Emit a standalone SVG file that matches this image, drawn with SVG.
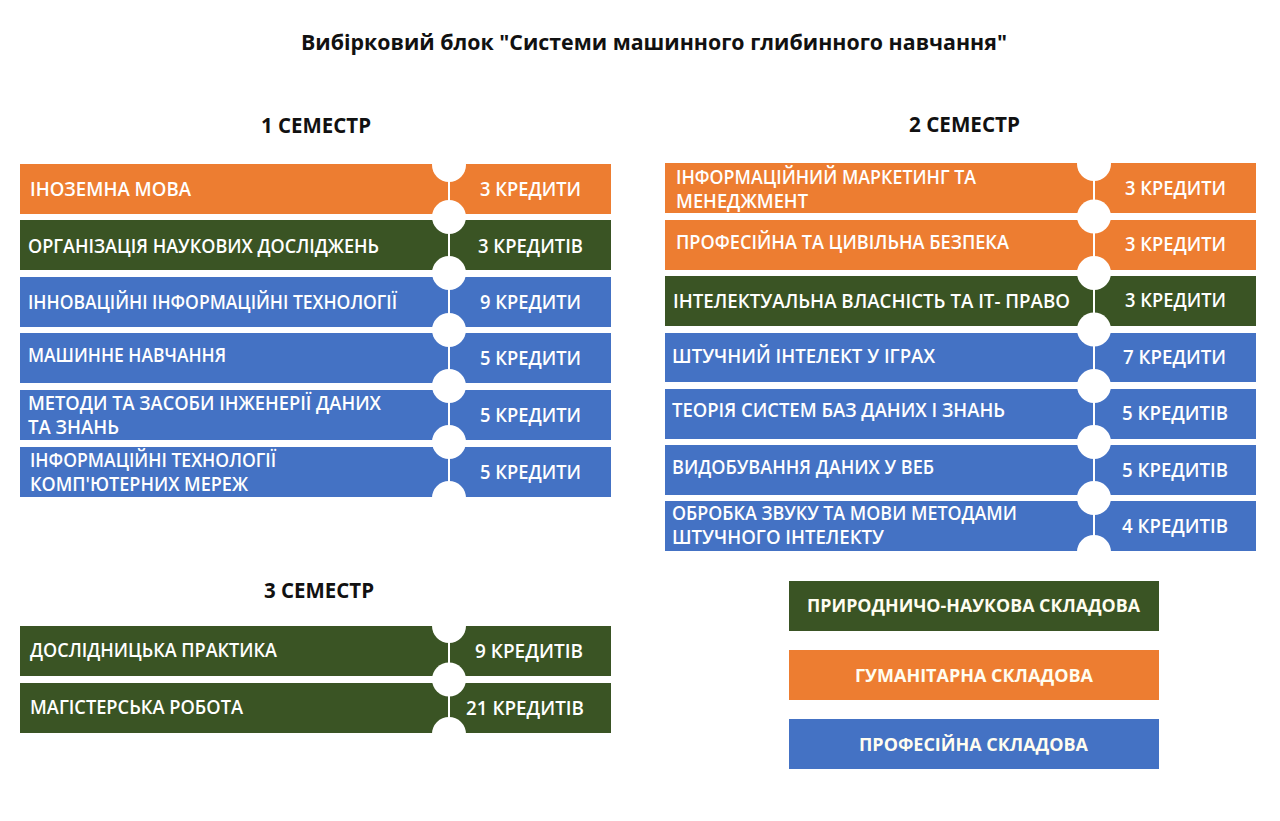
<svg xmlns="http://www.w3.org/2000/svg" width="1280" height="821" viewBox="0 0 1280 821">
<style>
.bg{fill:#ffffff}
.or{fill:#ED7D31}
.gr{fill:#3A5424}
.bl{fill:#4472C4}
.t{font-family:"Open Sans","Noto Sans","Liberation Sans",sans-serif;font-size:19px;font-weight:600;fill:#ffffff}
.lg{font-family:"Open Sans","Noto Sans","Liberation Sans",sans-serif;font-size:17px;font-weight:700;fill:#FFFDF0}
.h{font-family:"Open Sans","Noto Sans","Liberation Sans",sans-serif;font-size:21px;font-weight:700;fill:#111111}
.ttl{font-family:"Open Sans","Noto Sans","Liberation Sans",sans-serif;font-size:21px;font-weight:700;fill:#111111}
.dot{fill:#ffffff}
.ln{stroke:#ffffff;stroke-width:2;fill:none}
</style>
<rect class="bg" x="0" y="0" width="1280" height="821"/>

<g id="title">
<text class="ttl" x="301" y="50" textLength="706" lengthAdjust="spacingAndGlyphs">Вибірковий блок "Системи машинного глибинного навчання"</text>
</g>
<g id="sem1-header"><text class="h" x="261" y="132.5" textLength="110" lengthAdjust="spacingAndGlyphs">1 СЕМЕСТР</text></g>
<g id="sem2-header"><text class="h" x="909" y="131.5" textLength="111" lengthAdjust="spacingAndGlyphs">2 СЕМЕСТР</text></g>
<g id="sem3-header"><text class="h" x="264" y="597.5" textLength="110" lengthAdjust="spacingAndGlyphs">3 СЕМЕСТР</text></g>

<!-- Semester 1 -->
<g id="s1-1"><rect class="or" x="20" y="164" width="591" height="50"/>
<text class="t" x="30" y="196" textLength="161" lengthAdjust="spacingAndGlyphs">ІНОЗЕМНА МОВА</text>
<text class="t" x="480" y="196" textLength="101" lengthAdjust="spacingAndGlyphs">3 КРЕДИТИ</text></g>
<g id="s1-2"><rect class="gr" x="20" y="220" width="591" height="50"/>
<text class="t" x="28" y="252.5" textLength="351" lengthAdjust="spacingAndGlyphs">ОРГАНІЗАЦІЯ НАУКОВИХ ДОСЛІДЖЕНЬ</text>
<text class="t" x="478" y="252.5" textLength="105" lengthAdjust="spacingAndGlyphs">3 КРЕДИТІВ</text></g>
<g id="s1-3"><rect class="bl" x="20" y="277" width="591" height="50"/>
<text class="t" x="28" y="309" textLength="369" lengthAdjust="spacingAndGlyphs">ІННОВАЦІЙНІ ІНФОРМАЦІЙНІ ТЕХНОЛОГІЇ</text>
<text class="t" x="480" y="309" textLength="101" lengthAdjust="spacingAndGlyphs">9 КРЕДИТИ</text></g>
<g id="s1-4"><rect class="bl" x="20" y="333" width="591" height="50"/>
<text class="t" x="28" y="362" textLength="198" lengthAdjust="spacingAndGlyphs">МАШИННЕ НАВЧАННЯ</text>
<text class="t" x="480" y="365" textLength="101" lengthAdjust="spacingAndGlyphs">5 КРЕДИТИ</text></g>
<g id="s1-5"><rect class="bl" x="20" y="390" width="591" height="50"/>
<text class="t" x="28" y="410" textLength="353" lengthAdjust="spacingAndGlyphs">МЕТОДИ ТА ЗАСОБИ ІНЖЕНЕРІЇ ДАНИХ</text>
<text class="t" x="28" y="434" textLength="91" lengthAdjust="spacingAndGlyphs">ТА ЗНАНЬ</text>
<text class="t" x="480" y="422" textLength="101" lengthAdjust="spacingAndGlyphs">5 КРЕДИТИ</text></g>
<g id="s1-6"><rect class="bl" x="20" y="447" width="591" height="50"/>
<text class="t" x="30" y="467" textLength="246" lengthAdjust="spacingAndGlyphs">ІНФОРМАЦІЙНІ ТЕХНОЛОГІЇ</text>
<text class="t" x="30" y="491" textLength="218" lengthAdjust="spacingAndGlyphs">КОМП'ЮТЕРНИХ МЕРЕЖ</text>
<text class="t" x="480" y="479" textLength="101" lengthAdjust="spacingAndGlyphs">5 КРЕДИТИ</text></g>

<!-- Semester 2 -->
<g id="s2-1"><rect class="or" x="665" y="163" width="591" height="50"/>
<text class="t" x="676" y="184" textLength="300" lengthAdjust="spacingAndGlyphs">ІНФОРМАЦІЙНИЙ МАРКЕТИНГ ТА</text>
<text class="t" x="676" y="208" textLength="132" lengthAdjust="spacingAndGlyphs">МЕНЕДЖМЕНТ</text>
<text class="t" x="1125" y="195" textLength="101" lengthAdjust="spacingAndGlyphs">3 КРЕДИТИ</text></g>
<g id="s2-2"><rect class="or" x="665" y="220" width="591" height="50"/>
<text class="t" x="676" y="249" textLength="333" lengthAdjust="spacingAndGlyphs">ПРОФЕСІЙНА ТА ЦИВІЛЬНА БЕЗПЕКА</text>
<text class="t" x="1125" y="251" textLength="101" lengthAdjust="spacingAndGlyphs">3 КРЕДИТИ</text></g>
<g id="s2-3"><rect class="gr" x="665" y="276" width="591" height="50"/>
<text class="t" x="673" y="308" textLength="397" lengthAdjust="spacingAndGlyphs">ІНТЕЛЕКТУАЛЬНА ВЛАСНІСТЬ ТА ІТ- ПРАВО</text>
<text class="t" x="1125" y="307" textLength="101" lengthAdjust="spacingAndGlyphs">3 КРЕДИТИ</text></g>
<g id="s2-4"><rect class="bl" x="665" y="333" width="591" height="49"/>
<text class="t" x="672" y="363" textLength="263" lengthAdjust="spacingAndGlyphs">ШТУЧНИЙ ІНТЕЛЕКТ У ІГРАХ</text>
<text class="t" x="1123" y="364" textLength="103" lengthAdjust="spacingAndGlyphs">7 КРЕДИТИ</text></g>
<g id="s2-5"><rect class="bl" x="665" y="389" width="591" height="50"/>
<text class="t" x="672" y="417" textLength="333" lengthAdjust="spacingAndGlyphs">ТЕОРІЯ СИСТЕМ БАЗ ДАНИХ І ЗНАНЬ</text>
<text class="t" x="1122" y="420" textLength="106" lengthAdjust="spacingAndGlyphs">5 КРЕДИТІВ</text></g>
<g id="s2-6"><rect class="bl" x="665" y="445" width="591" height="50"/>
<text class="t" x="672" y="474" textLength="262" lengthAdjust="spacingAndGlyphs">ВИДОБУВАННЯ ДАНИХ У ВЕБ</text>
<text class="t" x="1122" y="477" textLength="106" lengthAdjust="spacingAndGlyphs">5 КРЕДИТІВ</text></g>
<g id="s2-7"><rect class="bl" x="665" y="501" width="591" height="50"/>
<text class="t" x="672" y="520" textLength="345" lengthAdjust="spacingAndGlyphs">ОБРОБКА ЗВУКУ ТА МОВИ МЕТОДАМИ</text>
<text class="t" x="672" y="544" textLength="212" lengthAdjust="spacingAndGlyphs">ШТУЧНОГО ІНТЕЛЕКТУ</text>
<text class="t" x="1122" y="533" textLength="106" lengthAdjust="spacingAndGlyphs">4 КРЕДИТІВ</text></g>

<!-- Semester 3 -->
<g id="s3-1"><rect class="gr" x="20" y="626" width="591" height="50"/>
<text class="t" x="30" y="657" textLength="247" lengthAdjust="spacingAndGlyphs">ДОСЛІДНИЦЬКА ПРАКТИКА</text>
<text class="t" x="475" y="658" textLength="108" lengthAdjust="spacingAndGlyphs">9 КРЕДИТІВ</text></g>
<g id="s3-2"><rect class="gr" x="20" y="683" width="591" height="50"/>
<text class="t" x="30" y="714" textLength="213" lengthAdjust="spacingAndGlyphs">МАГІСТЕРСЬКА РОБОТА</text>
<text class="t" x="466" y="715" textLength="118" lengthAdjust="spacingAndGlyphs">21 КРЕДИТІВ</text></g>

<!-- Timeline separators -->
<g id="connectors">
<line class="ln" x1="449" y1="164" x2="449" y2="497"/>
<line class="ln" x1="1094" y1="163" x2="1094" y2="551"/>
<line class="ln" x1="449" y1="626" x2="449" y2="733"/>
<ellipse class="dot" cx="449" cy="165" rx="17" ry="17"/>
<ellipse class="dot" cx="449" cy="217" rx="17" ry="17"/>
<ellipse class="dot" cx="449" cy="273" rx="17" ry="17"/>
<ellipse class="dot" cx="449" cy="330" rx="17" ry="17"/>
<ellipse class="dot" cx="449" cy="386" rx="17" ry="17"/>
<ellipse class="dot" cx="449" cy="442" rx="17" ry="17"/>
<ellipse class="dot" cx="449" cy="498" rx="17" ry="17"/>
<ellipse class="dot" cx="1094" cy="164" rx="17" ry="17"/>
<ellipse class="dot" cx="1094" cy="216.5" rx="17" ry="17"/>
<ellipse class="dot" cx="1094" cy="273" rx="17" ry="17"/>
<ellipse class="dot" cx="1094" cy="329.5" rx="17" ry="17"/>
<ellipse class="dot" cx="1094" cy="386" rx="17" ry="17"/>
<ellipse class="dot" cx="1094" cy="442" rx="17" ry="17"/>
<ellipse class="dot" cx="1094" cy="498" rx="17" ry="17"/>
<ellipse class="dot" cx="1094" cy="552" rx="17" ry="17"/>
<ellipse class="dot" cx="449" cy="626" rx="17" ry="17"/>
<ellipse class="dot" cx="449" cy="679.5" rx="17" ry="17"/>
<ellipse class="dot" cx="449" cy="734" rx="17" ry="17"/>
</g>

<!-- Legend -->
<g id="legend-natural"><rect class="gr" x="789" y="581" width="370" height="50"/>
<text class="lg" x="807" y="612" textLength="333" lengthAdjust="spacingAndGlyphs">ПРИРОДНИЧО-НАУКОВА СКЛАДОВА</text></g>
<g id="legend-humanitarian"><rect class="or" x="789" y="650" width="370" height="50"/>
<text class="lg" x="855" y="682" textLength="238" lengthAdjust="spacingAndGlyphs">ГУМАНІТАРНА СКЛАДОВА</text></g>
<g id="legend-professional"><rect class="bl" x="789" y="719" width="370" height="50"/>
<text class="lg" x="859" y="751" textLength="229" lengthAdjust="spacingAndGlyphs">ПРОФЕСІЙНА СКЛАДОВА</text></g>
</svg>
